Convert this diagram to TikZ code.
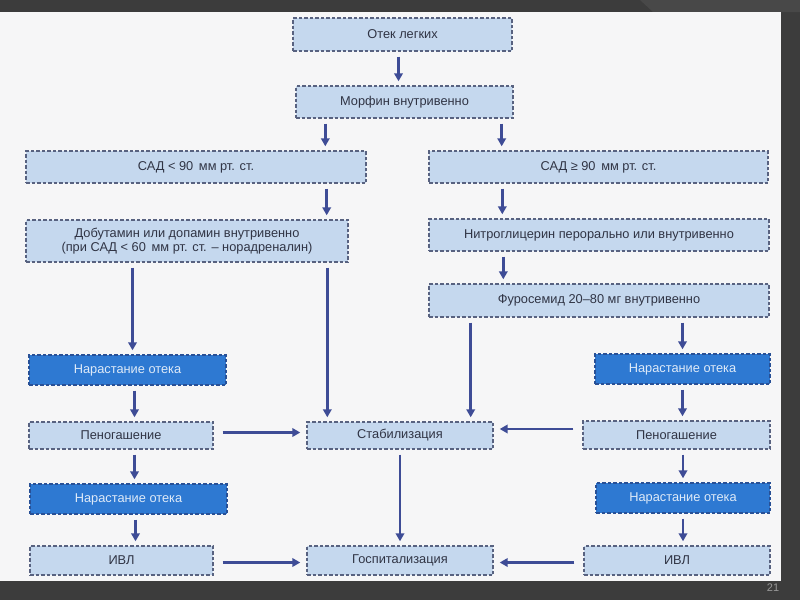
\documentclass[tikz,border=0pt]{standalone}
\usepackage{fontspec}
\setmainfont{Liberation Sans}
\usetikzlibrary{arrows.meta}

\definecolor{framegray}{RGB}{60,60,60}
\definecolor{framelight}{RGB}{72,72,72}
\definecolor{pagewhite}{RGB}{246,246,247}
\definecolor{cellfill}{RGB}{197,216,238}
\definecolor{cellborder}{RGB}{88,98,128}
\definecolor{celltext}{RGB}{48,52,68}
\definecolor{alarmfill}{RGB}{46,121,210}
\definecolor{alarmborder}{RGB}{40,80,150}
\definecolor{alarmtext}{RGB}{222,234,248}
\definecolor{arrowblue}{RGB}{62,76,150}

\begin{document}
\begin{tikzpicture}[
    % GLOBAL CFG
    x=1pt, y=-1pt,
    font=\fontsize{12.8}{14.5}\selectfont,
    >={Triangle[length=8pt,width=8.5pt]},
    % Styles
    cell/.style={% For the light boxes
        rectangle,
        draw=cellborder,
        fill=cellfill,
        dash pattern=on 3.5pt off 2pt,
        line width=1.4pt,
        text=celltext,
        inner sep=2pt,
        align=center,
        },
    alarm/.style={% For the dark boxes
        cell,
        draw=alarmborder,
        fill=alarmfill,
        text=alarmtext,
        },
    pagenum/.style={% slide number
        font=\fontsize{11}{12}\selectfont,
        text=gray!80,
        },
    ArrowC1/.style={% Vertical arrows
        ->,
        draw=arrowblue,
        line width=2.5pt,
        shorten <=5pt,
        shorten >=4pt,
        },
    ArrowC2/.style={% Horizontal arrows
        ArrowC1,
        shorten <=9pt,
        shorten >=6pt,
        },
    ]

    \useasboundingbox (0,0) rectangle (800,600);

    % Draw the slide
    \fill[framegray] (0,0) rectangle (800,600);
    \fill[framelight] (640,0) -- (800,0) -- (800,12) -- (653,12) -- cycle;
    \fill[pagewhite] (0,12) rectangle (781,581);
    \node[pagenum] (page_no) at (773,588) {21};

    % Draw the top
    \node [cell, minimum width=219, minimum height=33] (otek) at (402.5,34.5) {Отек легких};
    \node [cell, minimum width=217, minimum height=32] (morphine) at (404.5,102) {Морфин внутривенно};

    % Draw the left branch
    \node [cell, minimum width=340, minimum height=32] (sad_low) at (196,167) {САД < 90\, мм рт. ст.};
    \node [cell, minimum width=322, minimum height=42] (dobut) at (187,241) {Добутамин или допамин внутривенно\\(при САД < 60\, мм рт. ст. – норадреналин)};
    \node [alarm, minimum width=197, minimum height=30] (swell_l1) at (127.5,370) {Нарастание отека};
    \node [cell, minimum width=184, minimum height=27] (foam_l) at (121,435.5) {Пеногашение};
    \node [alarm, minimum width=197, minimum height=30] (swell_l2) at (128.5,499) {Нарастание отека};
    \node [cell, minimum width=183, minimum height=29] (ivl_l) at (121.5,560.5) {ИВЛ};

    % Draw the right branch
    \node [cell, minimum width=339, minimum height=32] (sad_high) at (598.5,167) {САД ≥ 90\, мм рт. ст.};
    \node [cell, minimum width=340, minimum height=32] (nitro) at (599,235) {Нитроглицерин перорально или внутривенно};
    \node [cell, minimum width=340, minimum height=33] (furo) at (599,300.5) {Фуросемид 20–80 мг внутривенно};
    \node [alarm, minimum width=175, minimum height=30] (swell_r1) at (682.5,369) {Нарастание отека};
    \node [cell, minimum width=187, minimum height=28] (foam_r) at (676.5,435) {Пеногашение};
    \node [alarm, minimum width=174, minimum height=30] (swell_r2) at (683,498) {Нарастание отека};
    \node [cell, minimum width=186, minimum height=29] (ivl_r) at (677,560.5) {ИВЛ};

    % Draw the middle
    \node [cell, minimum width=186, minimum height=27] (stab) at (400,435.5) {Стабилизация};
    \node [cell, minimum width=186, minimum height=29] (hosp) at (400,560.5) {Госпитализация};

% Start connecting all.
    % top
    \draw [ArrowC1] ([xshift=-4pt]otek.south) -- ([xshift=-4pt]otek.south |- morphine.north);
    \draw [ArrowC1] ([xshift=30pt]morphine.south west) -- ([xshift=30pt]morphine.south west |- sad_low.north);
    \draw [ArrowC1] ([xshift=-12pt]morphine.south east) -- ([xshift=-12pt]morphine.south east |- sad_high.north);

    % left branch
    \draw [ArrowC1] ([xshift=-40pt]sad_low.south east) -- ([xshift=-40pt]sad_low.south east |- dobut.north);
    \draw [ArrowC1] ([xshift=5pt]swell_l1.north |- dobut.south) -- ([xshift=5pt]swell_l1.north);
    \draw [ArrowC1] ([xshift=21pt]stab.north west |- dobut.south) -- ([xshift=21pt]stab.north west);
    \draw [ArrowC1] ([xshift=7pt]swell_l1.south) -- ([xshift=7pt]swell_l1.south |- foam_l.north);
    \draw [ArrowC1] ([xshift=6pt]swell_l2.north |- foam_l.south) -- ([xshift=6pt]swell_l2.north);
    \draw [ArrowC1] ([xshift=7pt]swell_l2.south) -- ([xshift=7pt]swell_l2.south |- ivl_l.north);

    % right branch
    \draw [ArrowC1] ([xshift=74pt]sad_high.south west) -- ([xshift=74pt]sad_high.south west |- nitro.north);
    \draw [ArrowC1] ([xshift=75pt]nitro.south west) -- ([xshift=75pt]nitro.south west |- furo.north);
    \draw [ArrowC1] ([xshift=-23pt]stab.north east |- furo.south) -- ([xshift=-23pt]stab.north east);
    \draw [ArrowC1] (swell_r1.north |- furo.south) -- (swell_r1.north);
    \draw [ArrowC1] (swell_r1.south) -- (swell_r1.south |- foam_r.north);
    \draw [ArrowC1] (swell_r2.north |- foam_r.south) -- (swell_r2.north);
    \draw [ArrowC1] (swell_r2.south) -- (swell_r2.south |- ivl_r.north);

    % middle
    \draw [ArrowC1] (stab.south) -- (hosp.north);
    \draw [ArrowC2] ([yshift=3pt]foam_l.east) -- ([yshift=3pt]foam_l.east -| stab.west);
    \draw [ArrowC2] ([yshift=6pt]foam_r.west) -- ([yshift=6pt]foam_r.west -| stab.east);
    \draw [ArrowC2] ([yshift=-2pt]ivl_l.east) -- ([yshift=-2pt]ivl_l.east -| hosp.west);
    \draw [ArrowC2] ([yshift=-2pt]ivl_r.west) -- ([yshift=-2pt]ivl_r.west -| hosp.east);

\end{tikzpicture}
\end{document}
